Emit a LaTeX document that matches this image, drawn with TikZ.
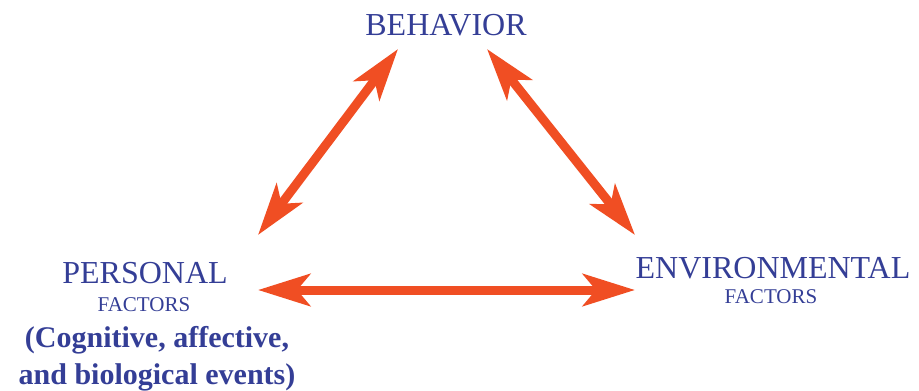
\documentclass[tikz,border=0pt]{standalone}
\usepackage{fontspec}
\setmainfont{Liberation Serif}
\usetikzlibrary{arrows.meta}
\definecolor{txtblue}{RGB}{52,62,150}
\definecolor{arrred}{RGB}{240,78,35}
\tikzset{
  lbl/.style={text=txtblue, inner sep=0pt, anchor=center},
  big/.style={lbl, font=\fontsize{32}{34}\selectfont},
  small/.style={lbl, font=\fontsize{21}{23}\selectfont},
  note/.style={lbl, font=\bfseries\fontsize{30}{36}\selectfont},
  link/.style={draw=arrred, line width=9pt,
    {Stealth[length=52pt,width=32pt,inset=13pt]}-{Stealth[length=52pt,width=32pt,inset=13pt]}}
}
\begin{document}
\begin{tikzpicture}[x=1pt,y=-1pt]
\useasboundingbox (0,0) rectangle (919,391);
\node[big] (beh) at (446,25) {BEHAVIOR};
\node[big] (pers) at (145,273) {PERSONAL};
\node[small] (pf) at (144,305) {FACTORS};
\node[note] (cog) at (157,340) {(Cognitive, affective,};
\node[note] (bio) at (157,377) {and biological events)};
\node[big] (env) at (773,268) {ENVIRONMENTAL};
\node[small] (ef) at (771,297) {FACTORS};
\coordinate (bl) at (258,235);
\coordinate (bt) at (398,49);
\coordinate (br) at (487,49);
\coordinate (er) at (635,235);
\coordinate (pl) at (258,290);
\coordinate (el) at (635,290);
\draw[link] (bl) -- (bt);
\draw[link] (br) -- (er);
\draw[link] (pl) -- (el);
\end{tikzpicture}
\end{document}
